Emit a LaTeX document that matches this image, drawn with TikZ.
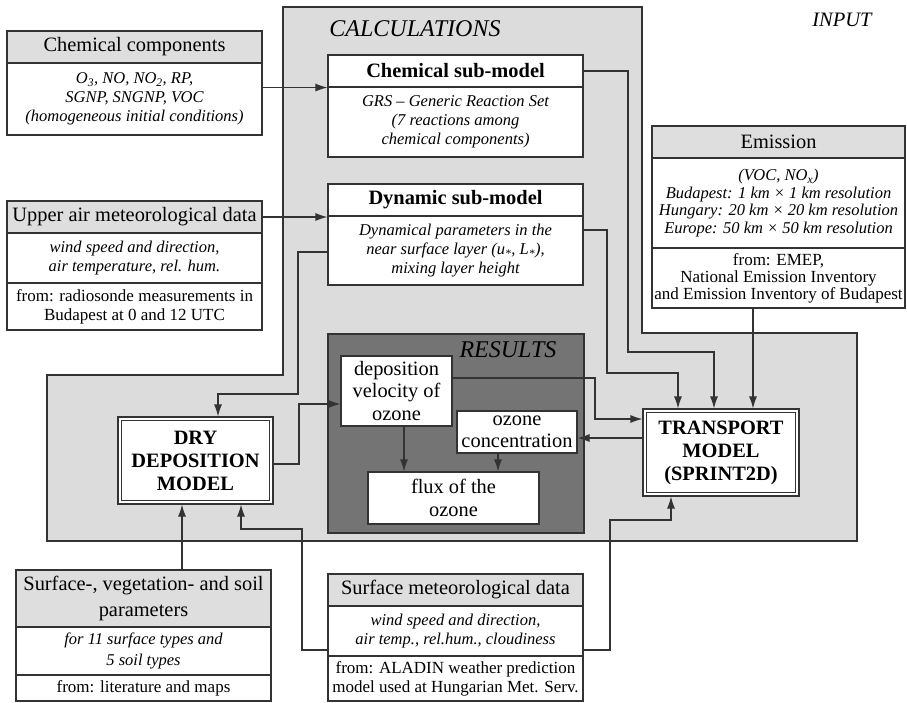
\documentclass[tikz,border=0pt]{standalone}
\usepackage{fontspec}
\setmainfont{Liberation Serif}
\usetikzlibrary{arrows.meta}
\definecolor{lc}{HTML}{333333}
\definecolor{calcgray}{HTML}{DCDCDC}
\definecolor{hdrgray}{HTML}{DEDEDE}
\definecolor{resgray}{HTML}{747474}
\begin{document}
\begin{tikzpicture}[x=1pt,y=-1pt,
  box/.style={draw=lc, line width=1.1pt, inner sep=0pt, align=center, fill=white},
  hdr/.style={box, fill=hdrgray, font=\fontsize{20.4}{26}\selectfont},
  itl/.style={box, font=\fontsize{16.5}{19}\selectfont\itshape},
  frm/.style={box, font=\fontsize{17}{19}\selectfont},
  ttl/.style={box, font=\fontsize{20.4}{24}\selectfont\bfseries},
  res/.style={box, font=\fontsize{20.4}{22.5}\selectfont},
  model/.style={box, font=\fontsize{20.4}{23}\selectfont\bfseries},
  inner/.style={draw=lc, line width=1.1pt},
  lbl/.style={inner sep=0pt, font=\fontsize{24}{28}\selectfont\itshape},
  arr/.style={draw=lc, line width=1.1pt, -{Latex[length=12pt,width=8pt]}},
  lin/.style={draw=lc, line width=1.1pt}
]
\useasboundingbox (0,0) rectangle (907,703);
% calculations region
\draw[lin, fill=calcgray] (283,7) -- (642,7) -- (642,333) -- (857,333) -- (857,541) -- (47,541) -- (47,375) -- (283,375) -- cycle;
\node[lbl] (calc) at (415,29) {CALCULATIONS};
\node[lbl, font=\fontsize{20.5}{24}\selectfont\itshape] (input) at (842,20) {INPUT};
% results region
\draw[lin, fill=resgray] (328,334) rectangle (584,533);
\node[lbl] (results) at (508,350) {RESULTS};

% chemical components
\node[hdr, minimum width=255, minimum height=32] (cch) at (134.5,47) {Chemical components};
\node[itl, minimum width=255, minimum height=72] (ccb) at (134.5,99) {O\textsubscript{3}, NO, NO\textsubscript{2}, RP,\\SGNP, SNGNP, VOC\\(homogeneous initial conditions)};
% upper air
\node[hdr, minimum width=255, minimum height=32] (uah) at (134.5,217) {Upper air meteorological data};
\node[itl, minimum width=255, minimum height=50] (uab) at (134.5,258) {wind speed and direction,\\air temperature, rel. hum.};
\node[frm, minimum width=255, minimum height=47] (uaf) at (134.5,306.5) {from: radiosonde measurements in\\Budapest at 0 and 12 UTC};
% chemical sub-model
\node[ttl, minimum width=255, minimum height=32] (csh) at (455.5,71) {Chemical sub-model};
\node[itl, minimum width=255, minimum height=70] (csb) at (455.5,122) {GRS -- Generic Reaction Set\\(7 reactions among\\chemical components)};
% dynamic sub-model
\node[ttl, minimum width=255, minimum height=32] (dsh) at (455.5,200) {Dynamic sub-model};
\node[itl, minimum width=255, minimum height=69] (dsb) at (455.5,250.5) {Dynamical parameters in the\\near surface layer (u\textsubscript{*}, L\textsubscript{*}),\\mixing layer height};
% emission
\node[hdr, minimum width=253, minimum height=32] (emh) at (778.5,142) {Emission};
\node[itl, font=\fontsize{16.5}{17.7}\selectfont\itshape, minimum width=253, minimum height=90] (emb) at (778.5,203) {(VOC, NO\textsubscript{x})\\Budapest: 1 km × 1 km resolution\\Hungary: 20 km × 20 km resolution\\Europe: 50 km × 50 km resolution};
\node[frm, font=\fontsize{17}{17}\selectfont, minimum width=253, minimum height=60] (emf) at (778.5,278) {from: EMEP,\\National Emission Inventory\\and Emission Inventory of Budapest};
% results boxes
\node[res, minimum width=111, minimum height=70] (dv) at (396.5,391) {deposition\\velocity of\\ozone};
\node[res, minimum width=120, minimum height=42] (oc) at (517,432) {ozone\\concentration};
\node[res, minimum width=171, minimum height=52] (fx) at (453.5,498) {flux of the\\ozone};
% models (double border)
\node[model, minimum width=156, minimum height=87] (tm) at (721,452.5) {TRANSPORT\\MODEL\\(SPRINT2D)};
\draw[inner] ([shift={(4,4)}]tm.north west) rectangle ([shift={(-4,-4)}]tm.south east);
\node[model, minimum width=155, minimum height=87] (dd) at (195.5,460.5) {DRY\\DEPOSITION\\MODEL};
\draw[inner] ([shift={(4,4)}]dd.north west) rectangle ([shift={(-4,-4)}]dd.south east);
% surface-, vegetation- and soil parameters
\node[hdr, minimum width=255, minimum height=57] (svh) at (143.5,598.5) {Surface-, vegetation- and soil\\parameters};
\node[itl, font=\fontsize{16.5}{21}\selectfont\itshape, minimum width=255, minimum height=48] (svb) at (143.5,651) {for 11 surface types and\\5 soil types};
\node[frm, minimum width=255, minimum height=26] (svf) at (143.5,688) {from: literature and maps};
% surface meteorological data
\node[hdr, minimum width=255, minimum height=32] (smh) at (455.5,590) {Surface meteorological data};
\node[itl, font=\fontsize{16.5}{18.3}\selectfont\itshape, minimum width=255, minimum height=50] (smb) at (455.5,631) {wind speed and direction,\\air temp., rel.hum., cloudiness};
\node[frm, minimum width=255, minimum height=45] (smf) at (455.5,678.5) {from: ALADIN weather prediction\\model used at Hungarian Met. Serv.};

% connectors
\draw[arr] (ccb.east |- csh.south) -- (csh.south west);
\draw[arr] (uah.east) -- (uah.east -| dsh.west);
\draw[arr] (csh.east) -- (628,71) -- (628,352) -- (714,352) -- (tm.north -| 714,0);
\draw[arr] (dsb.east |- 0,230) -- (607,230) -- (607,373) -- (678,373) -- (tm.north -| 678,0);
\draw[arr] (emf.south -| 753,0) -- (tm.north -| 753,0);
\draw[arr] (dsb.west |- 0,252) -- (298,252) -- (298,394) -- (218,394) -- (dd.north -| 218,0);
\draw[arr] (dd.east |- 0,464) -- (299,464) -- (299,404) -- (dv.west |- 0,404);
\draw[arr] (dv.east |- 0,378) -- (595,378) -- (595,419) -- (tm.west |- 0,419);
\draw[arr] (tm.west |- 0,438) -- (oc.east |- 0,438);
\draw[arr] (oc.south -| 498,0) -- (fx.north -| 498,0);
\draw[arr] (dv.south -| 404,0) -- (fx.north -| 404,0);
\draw[arr] (svh.north -| 182,0) -- (dd.south -| 182,0);
\draw[arr] (smb.west |- 0,650) -- (302,650) -- (302,529) -- (241,529) -- (dd.south -| 241,0);
\draw[arr] (smb.east |- 0,650) -- (610,650) -- (610,520) -- (671,520) -- (tm.south -| 671,0);
\end{tikzpicture}
\end{document}
